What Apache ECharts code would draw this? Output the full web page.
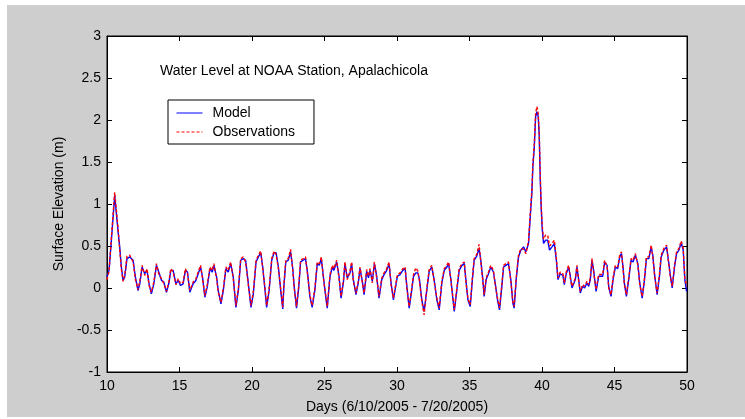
<!DOCTYPE html>
<html>
<head>
<meta charset="utf-8">
<script src="https://cdn.jsdelivr.net/npm/echarts@6/dist/echarts.min.js"></script>
<style>
html,body{margin:0;padding:0;background:#fff;}
#bg{position:absolute;left:7px;top:5px;width:738px;height:412px;background:#cecece;}
#chart{position:absolute;left:0;top:0;width:745px;height:419px;}
</style>
</head>
<body>
<div id="bg"></div>
<div id="chart"></div>
<script>
// Time in days
const days = [
10.00,10.14,10.30,10.53,10.76,10.88,10.99,11.11,11.22,11.38,
11.57,11.80,11.96,12.14,12.26,12.42,12.60,12.76,12.90,13.06,
13.23,13.41,13.57,13.76,13.92,14.10,14.26,14.40,14.56,14.75,
14.91,15.07,15.25,15.41,15.55,15.71,15.94,16.13,16.29,16.45,
16.59,16.75,16.91,17.10,17.26,17.37,17.56,17.67,17.86,18.02,
18.20,18.36,18.53,18.71,18.89,19.06,19.22,19.40,19.56,19.75,
19.93,20.09,20.28,20.44,20.60,20.74,20.90,21.01,21.18,21.36,
21.52,21.66,21.82,21.98,22.12,
22.20,22.33,22.50,22.66,22.80,22.91,23.07,23.23,23.35,23.53,
23.69,23.83,23.99,24.15,24.34,24.50,24.64,24.78,24.92,25.08,
25.19,25.38,25.54,25.65,25.84,26.00,26.14,26.30,26.41,26.57,
26.76,26.87,26.99,27.17,27.33,27.45,27.61,27.73,27.91,28.03,
28.14,28.30,28.44,28.60,28.76,28.95,29.11,29.29,29.45,29.59,
29.75,29.87,30.03,30.21,30.40,30.56,30.68,30.84,31.02,31.14,
31.30,31.44,31.55,31.71,31.87,32.06,32.22,32.40,32.56,32.75,
32.91,33.09,33.26,33.44,33.56,33.72,33.86,33.95,34.13,34.29,
34.48,34.64,34.75,34.89,35.05,
35.20,35.32,35.50,35.66,35.78,35.92,36.01,36.15,36.31,36.47,
36.65,36.77,36.93,37.07,37.23,37.35,37.51,37.69,37.85,37.99,
38.08,38.22,38.38,38.54,38.73,38.89,39.07,39.19,39.30,39.37,
39.47,39.56,39.65,39.74,39.81,39.88,39.95,40.02,40.11,40.25,
40.39,40.52,40.69,40.85,40.99,41.10,41.26,
41.44,41.54,41.67,41.84,41.95,42.07,42.18,42.30,42.41,42.53,
42.64,42.80,42.94,43.10,43.22,43.33,43.45,43.56,43.73,43.91,
44.02,44.19,44.32,44.49,44.60,44.76,44.90,45.06,45.22,45.36,
45.48,45.59,45.68,45.82,45.98,46.14,46.28,46.44,46.61,46.74,
46.91,47.07,47.20,47.37,47.53,47.64,47.78,47.94,48.10,48.22,
48.40,48.59,48.75,48.86,48.98,49.14,49.28,49.44,49.60,49.74,
49.85,49.97
];

// Model surface elevation (m)
const modelLevel = [
0.13,0.21,0.56,1.10,0.68,0.48,0.25,0.09,0.13,0.35,
0.37,0.33,0.13,-0.03,0.05,0.25,0.17,0.21,0.05,-0.07,
0.05,0.27,0.19,0.09,0.07,-0.05,0.05,0.21,0.21,0.05,
0.09,0.03,0.05,0.21,0.19,-0.05,0.05,0.09,0.17,0.25,
0.13,-0.11,0.01,0.23,0.19,0.27,0.13,-0.03,-0.19,-0.03,
0.23,0.19,0.29,0.13,-0.23,-0.03,0.33,0.35,0.33,0.05,
-0.23,-0.07,0.31,0.37,0.42,0.25,-0.03,-0.23,-0.03,0.33,
0.42,0.42,0.25,-0.03,-0.25,
0.02,0.31,0.33,0.43,0.25,0.02,-0.24,0.02,0.31,0.33,
0.35,0.18,-0.10,-0.23,-0.02,0.29,0.27,0.35,0.14,-0.10,
-0.24,0.14,0.25,0.21,0.31,0.14,-0.12,0.06,0.29,0.12,
0.18,0.29,0.10,-0.08,0.06,0.23,0.08,-0.08,0.20,0.12,
0.21,0.08,0.29,0.14,-0.12,0.10,0.16,0.21,0.29,0.06,
-0.14,-0.16,0.14,0.16,0.21,0.23,0.02,-0.24,-0.02,0.14,
0.18,0.18,0.10,-0.14,-0.28,-0.02,0.20,0.25,0.10,-0.14,
-0.26,0.06,0.21,0.25,0.29,0.10,-0.14,-0.28,-0.02,0.21,
0.27,0.29,0.10,-0.14,-0.22,
0.10,0.33,0.38,0.47,0.33,0.10,-0.10,0.10,0.17,0.25,
0.19,0.06,-0.14,-0.26,0.02,0.25,0.27,0.29,0.10,-0.18,
-0.24,0.10,0.37,0.45,0.49,0.43,0.53,0.85,1.13,1.44,
1.68,2.04,2.10,2.04,1.80,1.29,0.93,0.69,0.53,0.57,
0.57,0.45,0.49,0.53,0.33,0.10,0.17,
0.15,0.04,0.17,0.25,0.14,0.00,-0.02,0.10,0.25,0.10,
-0.06,0.02,0.00,0.06,0.02,0.10,0.33,0.21,-0.04,0.14,
0.12,0.14,0.31,0.27,0.02,-0.10,0.10,0.25,0.23,0.37,
0.41,0.25,0.06,-0.10,0.10,0.33,0.31,0.39,0.29,0.06,
-0.12,0.10,0.35,0.35,0.49,0.39,0.14,-0.08,0.14,0.37,
0.45,0.49,0.29,0.14,0.00,0.25,0.41,0.45,0.54,0.45,
0.10,-0.04
];

// Observed surface elevation (m)
const obsLevel = [
0.10,0.20,0.60,1.14,0.72,0.45,0.22,0.08,0.15,0.38,
0.39,0.31,0.10,-0.02,0.08,0.27,0.15,0.23,0.03,-0.05,
0.07,0.29,0.17,0.11,0.05,-0.04,0.07,0.23,0.19,0.04,
0.11,0.05,0.07,0.23,0.17,-0.03,0.07,0.11,0.19,0.27,
0.11,-0.09,0.03,0.25,0.21,0.29,0.11,-0.05,-0.17,-0.01,
0.25,0.21,0.31,0.11,-0.21,-0.01,0.35,0.37,0.31,0.03,
-0.21,-0.05,0.33,0.39,0.44,0.23,-0.01,-0.21,-0.01,0.35,
0.44,0.40,0.23,-0.01,-0.23,
0.04,0.33,0.35,0.46,0.23,0.00,-0.22,0.04,0.33,0.35,
0.37,0.16,-0.08,-0.21,0.00,0.31,0.29,0.37,0.12,-0.08,
-0.22,0.16,0.27,0.23,0.33,0.12,-0.10,0.08,0.31,0.10,
0.20,0.31,0.08,-0.06,0.08,0.25,0.06,-0.06,0.22,0.14,
0.23,0.06,0.31,0.12,-0.10,0.12,0.18,0.23,0.31,0.04,
-0.12,-0.14,0.16,0.18,0.23,0.25,0.00,-0.22,0.00,0.16,
0.24,0.20,0.08,-0.16,-0.32,0.00,0.22,0.27,0.08,-0.12,
-0.24,0.08,0.23,0.27,0.31,0.08,-0.12,-0.26,0.00,0.23,
0.29,0.31,0.08,-0.12,-0.20,
0.12,0.35,0.40,0.52,0.31,0.08,-0.08,0.12,0.19,0.27,
0.21,0.04,-0.12,-0.24,0.04,0.27,0.29,0.31,0.08,-0.16,
-0.22,0.12,0.39,0.47,0.46,0.41,0.56,0.88,1.16,1.48,
1.72,2.08,2.16,2.08,1.84,1.34,0.97,0.74,0.58,0.63,
0.63,0.50,0.53,0.57,0.36,0.12,0.19,
0.17,0.06,0.19,0.27,0.12,0.02,0.00,0.12,0.27,0.08,
-0.04,0.04,0.02,0.08,0.04,0.12,0.35,0.19,-0.02,0.16,
0.14,0.16,0.33,0.25,0.00,-0.08,0.12,0.27,0.25,0.39,
0.43,0.23,0.04,-0.08,0.12,0.35,0.33,0.41,0.27,0.04,
-0.10,0.12,0.37,0.37,0.51,0.37,0.12,-0.06,0.16,0.39,
0.47,0.51,0.27,0.12,0.02,0.27,0.43,0.47,0.56,0.47,
0.12,0.02
];

const xRange = [10, 50];
const xStep = 5;
const yRange = [-1, 3];
const yStep = 0.5;
const seriesNames = ['Model', 'Observations'];
const chartTitle = 'Water Level at NOAA Station, Apalachicola';
const xTitle = 'Days (6/10/2005 - 7/20/2005)';
const yTitle = 'Surface Elevation (m)';

const FONT = '"Liberation Sans", Arial, sans-serif';
const modelData = days.map((d, i) => [d, modelLevel[i]]);
const obsData = days.map((d, i) => [d, obsLevel[i]]);

const chart = echarts.init(document.getElementById('chart'), null, {renderer: 'canvas'});

const baseX = {
  type: 'value', min: xRange[0], max: xRange[1], interval: xStep,
  axisLine: {show: true, onZero: false, lineStyle: {color: '#000', width: 1}},
  axisTick: {show: true, inside: true, length: 5, lineStyle: {color: '#000'}},
  splitLine: {show: false}
};
const baseY = {
  type: 'value', min: yRange[0], max: yRange[1], interval: yStep,
  axisLine: {show: true, onZero: false, lineStyle: {color: '#000', width: 1}},
  axisTick: {show: true, inside: true, length: 5, lineStyle: {color: '#000'}},
  splitLine: {show: false}
};

chart.setOption({
  animation: false,
  backgroundColor: 'transparent',
  title: {
    text: chartTitle, left: 160, top: 64, padding: 0,
    textStyle: {fontSize: 14, fontWeight: 'normal', color: '#000', fontFamily: FONT}
  },
  legend: {
    data: [
      {name: seriesNames[0], lineStyle: {color: '#0000ff', width: 1, type: 'solid'}},
      {name: seriesNames[1], lineStyle: {color: '#ff0000', width: 1, type: [3, 2]}}
    ],
    orient: 'vertical', left: 168, top: 100,
    itemWidth: 26, itemHeight: 14, itemGap: 5,
    padding: [6, 19, 5, 8],
    itemStyle: {opacity: 0},
    backgroundColor: '#fff', borderColor: '#000', borderWidth: 1, borderRadius: 0,
    textStyle: {fontSize: 14, color: '#000', fontFamily: FONT, padding: [0, 0, 0, 5]}
  },
  grid: {
    left: 107, top: 36, width: 580, height: 336,
    show: true, backgroundColor: '#fff', borderColor: '#000', borderWidth: 1
  },
  xAxis: [
    Object.assign({}, baseX, {
      position: 'bottom',
      name: xTitle, nameLocation: 'middle', nameGap: 28,
      nameTextStyle: {fontSize: 14, color: '#000', fontFamily: FONT},
      axisLabel: {show: true, margin: 7, fontSize: 14, color: '#000', fontFamily: FONT}
    }),
    Object.assign({}, baseX, {position: 'top', axisLabel: {show: false}})
  ],
  yAxis: [
    Object.assign({}, baseY, {
      position: 'left',
      name: yTitle, nameLocation: 'middle', nameGap: 40,
      nameTextStyle: {fontSize: 14, color: '#000', fontFamily: FONT},
      axisLabel: {show: true, margin: 6, fontSize: 14, color: '#000', fontFamily: FONT}
    }),
    Object.assign({}, baseY, {position: 'right', axisLabel: {show: false}})
  ],
  series: [
    {
      name: seriesNames[0], type: 'line', data: modelData,
      showSymbol: false, symbol: 'none',
      lineStyle: {color: '#0000ff', width: 1.4},
      itemStyle: {color: '#0000ff'}
    },
    {
      name: seriesNames[1], type: 'line', data: obsData,
      showSymbol: false, symbol: 'none',
      lineStyle: {color: '#ff0000', width: 1.4, type: [3, 2]},
      itemStyle: {color: '#ff0000'}
    }
  ]
});
</script>
</body>
</html>
